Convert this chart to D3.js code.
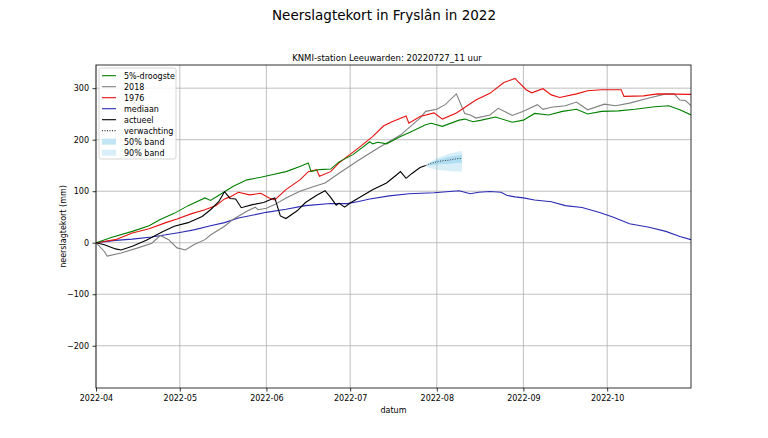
<!DOCTYPE html>
<html><head><meta charset="utf-8">
<script src="https://cdn.jsdelivr.net/npm/d3@7"></script>
<style>body{margin:0;background:#fff} text{font-family:"DejaVu Sans",sans-serif;fill:#000}</style>
</head><body><svg id="c" width="768" height="438"></svg>
<script>
// Day offsets are counted from 2022-04-01.
const startDate = new Date(2022, 3, 1);
const endDate = new Date(2022, 9, 31);
const monthTicks = ["2022-04","2022-05","2022-06","2022-07","2022-08","2022-09","2022-10"];
const yTicks = [-200,-100,0,100,200,300];

const droogsteDays = [0,6,13,19,23,28,33,39,41,46,49,54,59,63,68,73,76,77,80,84,87,92,98,99,101,104,109,113,118,120,124,130,132,135,138,143,149,153,157,162,167,172,176,181,187,193,200,205,209,213];
const droogsteVals = [0,11,22,33,45,57,72,87,82,99,109,122,127,132,138,148,155,138,142,143,157,171,196,192,195,192,206,216,229,232,226,238,240,235,238,244,234,238,251,248,255,259,250,255,256,259,264,266,258,248];

const y2018Days = [0,3,4,9,15,20,23,26,29,32,35,39,41,46,49,54,57,58,61,64,68,73,78,82,87,94,101,109,116,118,122,125,129,132,134,136,141,144,147,149,153,158,160,163,168,172,176,182,186,191,198,204,207,209,211,213];
const y2018Vals = [0,-17,-26,-20,-10,-1,14,6,-10,-14,-4,6,15,32,45,61,69,64,67,74,87,100,109,116,135,160,184,209,242,255,259,268,289,251,248,242,248,261,253,247,255,268,259,263,266,273,258,269,266,271,281,289,289,277,276,266];

const y1976Days = [0,7,13,19,25,29,34,39,43,46,48,51,55,59,62,64,68,73,76,79,80,84,87,94,99,103,106,111,112,116,121,124,129,136,141,146,150,151,154,156,160,163,166,172,176,181,188,189,196,201,213];
const y1976Vals = [0,6,19,27,39,46,56,64,72,85,89,98,93,96,87,83,103,122,138,142,129,138,155,184,206,227,235,246,232,245,252,240,252,277,290,311,319,313,297,291,299,287,282,289,295,297,297,284,285,289,288];

const mediaanDays = [0,7,13,20,25,30,35,41,46,51,61,68,75,84,90,94,98,105,112,121,130,134,137,141,145,147,150,153,157,163,168,174,180,185,191,198,204,209,213];
const mediaanVals = [0,4.5,7,11,15.5,20,25,33,39,48,59,65,72,76,76,80,85,91,95,97,101,95,98,99.5,98,92,89,87,83,79.5,72,68.5,59,50,37,30,22,12,6];

const actueelDays = [0,3,7,9,13,18,24,28,33,38,41,44,46,48,50,52,56,60,63,64,66,68,72,75,79,82,84,86,87,89,91,94,99,104,107,109,111,113,116,118];
const actueelVals = [0,-4,-12,-14,-7,5,22,32,39,51,64,80,99,86,85,68,74,78,85,87,52,47,62,78,92,101,88,73,77,69,77,87,103,116,129,138,125,134,146,150];

const fcDays = [118,119,120,121,122,123,124,125,126,127,128,129,130,131];
const fcMedian = [150,152,154,155.5,157,158,159,159.5,160,161,162,163,163.5,164];
const fcP5  = [150,146,144,143,142,141,140,140,139,139,138,139,138,138];
const fcP25 = [150,150,151,151,152,152,153,153,153,154,154,155,155,155];
const fcP75 = [150,153,156,158,160,162,163.5,165,166.5,167.5,168.5,169.5,170,171];
const fcP95 = [150,155,158,161,164,166,168,170,172,173,174.5,176,177,178];

const svg = d3.select("#c");
const L = 96, R = 691, T = 65, B = 388;
const x = d3.scaleTime().domain([startDate, endDate]).range([L, R]);
const y = d3.scaleLinear().domain([-282, 345]).range([B, T]);
const day = d => d3.timeDay.offset(startDate, d);
const parseM = d3.timeParse("%Y-%m");
const mdates = monthTicks.map(parseM);

svg.append("defs").append("clipPath").attr("id","clip")
  .append("rect").attr("x",L).attr("y",T).attr("width",R-L).attr("height",B-T);

// grid
const grid = svg.append("g").attr("stroke","#b0b0b0").attr("stroke-width",0.8);
mdates.forEach(d => grid.append("line").attr("x1",x(d)).attr("x2",x(d)).attr("y1",T).attr("y2",B));
yTicks.forEach(v => grid.append("line").attr("x1",L).attr("x2",R).attr("y1",y(v)).attr("y2",y(v)));

const plot = svg.append("g").attr("clip-path","url(#clip)");

// bands
const area = (lo, hi) => d3.area().x((d,i)=>x(day(fcDays[i]))).y0((d,i)=>y(lo[i])).y1((d,i)=>y(hi[i]));
plot.append("path").datum(fcDays).attr("d", area(fcP5, fcP95)).attr("fill","#87ceeb").attr("fill-opacity",0.32);
plot.append("path").datum(fcDays).attr("d", area(fcP25, fcP75)).attr("fill","#87ceeb").attr("fill-opacity",0.5);

const line = d3.line().x(d=>x(day(d[0]))).y(d=>y(d[1]));
const series = [
  {days: mediaanDays, vals: mediaanVals, color: "#2b2bb5"},
  {days: y2018Days, vals: y2018Vals, color: "#808080"},
  {days: y1976Days, vals: y1976Vals, color: "#e8100e"},
  {days: droogsteDays, vals: droogsteVals, color: "#008000"},
  {days: actueelDays, vals: actueelVals, color: "#000000"}
];
series.forEach(s => {
  plot.append("path").datum(s.days.map((d,i)=>[d, s.vals[i]]))
    .attr("d", line).attr("fill","none").attr("stroke", s.color).attr("stroke-width",1.1);
});
plot.append("path").datum(fcDays.map((d,i)=>[d, fcMedian[i]]))
  .attr("d", line).attr("fill","none").attr("stroke","#333").attr("stroke-width",1).attr("stroke-dasharray","1,1.5");

// axes
const xa = svg.append("g").attr("transform",`translate(0,${B})`)
  .call(d3.axisBottom(x).tickValues(mdates).tickFormat(d3.timeFormat("%Y-%m")).tickSize(3.5).tickPadding(3.5));
const ya = svg.append("g").attr("transform",`translate(${L},0)`)
  .call(d3.axisLeft(y).tickValues(yTicks).tickFormat(v => v < 0 ? "\u2212" + Math.abs(v) : v).tickSize(3.5).tickPadding(3.5));
[xa, ya].forEach(a => {
  a.select(".domain").remove();
  a.selectAll("text").attr("font-size", 8).attr("font-family","DejaVu Sans");
  a.selectAll("line").attr("stroke","#000").attr("stroke-width",0.8);
});
svg.append("rect").attr("x",L).attr("y",T).attr("width",R-L).attr("height",B-T)
  .attr("fill","none").attr("stroke","#000").attr("stroke-width",0.8);

// titles
svg.append("text").attr("x",384).attr("y",20).attr("text-anchor","middle").attr("font-size",13.5).text("Neerslagtekort in Fryslân in 2022");
svg.append("text").attr("x",387).attr("y",61).attr("text-anchor","middle").attr("font-size",8.5).text("KNMI-station Leeuwarden: 20220727_11 uur");
svg.append("text").attr("x",(L+R)/2).attr("y",413).attr("text-anchor","middle").attr("font-size",8).text("datum");
svg.append("text").attr("transform",`translate(66,${(T+B)/2}) rotate(-90)`).attr("text-anchor","middle").attr("font-size",8).text("neerslagtekort (mm)");

// legend
const lg = svg.append("g");
lg.append("rect").attr("x",99).attr("y",68).attr("width",77).attr("height",91).attr("rx",2)
  .attr("fill","#fff").attr("fill-opacity",0.85).attr("stroke","#cccccc").attr("stroke-width",0.8);
const legendItems = [
  {label:"5%-droogste", type:"line", color:"#008000"},
  {label:"2018", type:"line", color:"#808080"},
  {label:"1976", type:"line", color:"#e8100e"},
  {label:"mediaan", type:"line", color:"#2b2bb5"},
  {label:"actueel", type:"line", color:"#000"},
  {label:"verwachting", type:"dot", color:"#000"},
  {label:"50% band", type:"patch", op:0.5},
  {label:"90% band", type:"patch", op:0.32}
];
legendItems.forEach((it, i) => {
  const cy = 75.7 + i * 11;
  if (it.type === "patch") {
    lg.append("rect").attr("x",102).attr("y",cy-3).attr("width",14).attr("height",6).attr("fill","#87ceeb").attr("fill-opacity",it.op);
  } else {
    const ln = lg.append("line").attr("x1",102).attr("x2",116).attr("y1",cy).attr("y2",cy).attr("stroke",it.color).attr("stroke-width",1.1);
    if (it.type === "dot") ln.attr("stroke-dasharray","1,1.5");
  }
  lg.append("text").attr("x",124).attr("y",cy+3).attr("font-size",8).text(it.label);
});
</script></body></html>
